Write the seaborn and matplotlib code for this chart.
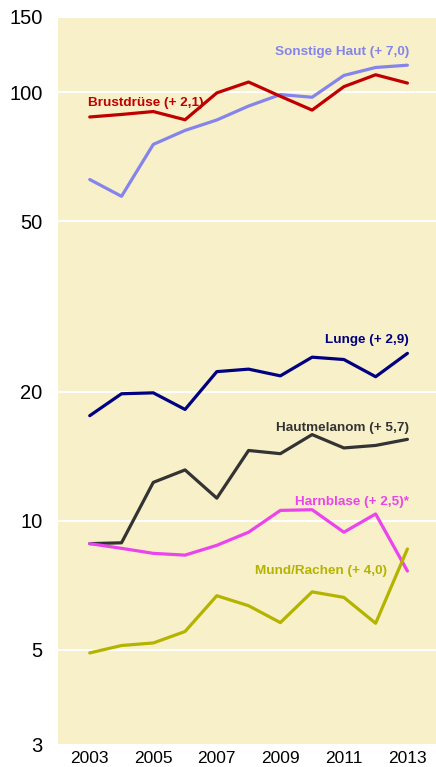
import numpy as np
import pandas as pd
import matplotlib
matplotlib.use("Agg")
import matplotlib.pyplot as plt
import seaborn as sns
from matplotlib.ticker import FixedLocator, NullLocator

years = list(range(2003, 2014))

sonstige_haut = [62.6, 57.2, 75.6, 81.5, 86.2, 92.9, 98.8, 97.4, 109.5, 114.3, 115.7]
brustdruese = [87.6, 88.8, 90.2, 86.3, 99.7, 105.7, 97.9, 90.9, 103.1, 109.9, 105.1]
lunge = [17.6, 19.8, 19.9, 18.2, 22.3, 22.6, 21.8, 24.1, 23.8, 21.7, 24.6]
hautmelanom = [8.85, 8.89, 12.3, 13.15, 11.3, 14.6, 14.35, 15.9, 14.8, 15.0, 15.5]
harnblase = [8.85, 8.63, 8.40, 8.32, 8.77, 9.41, 10.58, 10.62, 9.41, 10.38, 7.64]
mund_rachen = [4.92, 5.12, 5.19, 5.52, 6.69, 6.34, 5.79, 6.83, 6.63, 5.77, 8.60]

series_names = ["Sonstige Haut", "Brustdrüse", "Lunge", "Hautmelanom", "Harnblase", "Mund/Rachen"]
series_values = [sonstige_haut, brustdruese, lunge, hautmelanom, harnblase, mund_rachen]
series_labels = ["Sonstige Haut (+ 7,0)", "Brustdrüse (+ 2,1)", "Lunge (+ 2,9)",
                 "Hautmelanom (+ 5,7)", "Harnblase (+ 2,5)*", "Mund/Rachen (+ 4,0)"]
# where each label sits: (x, y in data units, alignment)
label_pos = [(2013.05, 124, "right"), (2002.95, 94.5, "left"), (2013.05, 26.4, "right"),
             (2013.05, 16.5, "right"), (2013.05, 11.08, "right"), (2012.35, 7.63, "right")]

y_ticks = [3, 5, 10, 20, 50, 100, 150]
x_ticks = [2003, 2005, 2007, 2009, 2011, 2013]

colors = {
    "Sonstige Haut": "#8484ec",
    "Brustdrüse": "#c00000",
    "Lunge": "#000080",
    "Hautmelanom": "#333333",
    "Harnblase": "#ec44ec",
    "Mund/Rachen": "#b4b400",
}

rows = []
for name, vals in zip(series_names, series_values):
    for yr, v in zip(years, vals):
        rows.append({"Jahr": yr, "Wert": v, "Serie": name})
df = pd.DataFrame(rows)

sns.set_style("white", {"axes.facecolor": "#f8f0c8"})
plt.rcParams["font.family"] = ["Liberation Sans", "DejaVu Sans"]

fig = plt.figure(figsize=(4.36, 7.67), dpi=100)
ax = fig.add_axes([0.133, 0.0287, 0.867, 0.9493])

sns.lineplot(data=df, x="Jahr", y="Wert", hue="Serie", palette=colors,
             hue_order=series_names, linewidth=2.3, legend=False, ax=ax)

ax.set_yscale("log")
ax.set_ylim(3, 150)
ax.set_xlim(2002, 2013.9)
ax.yaxis.set_major_locator(FixedLocator(y_ticks))
ax.yaxis.set_minor_locator(NullLocator())
ax.set_yticklabels([str(t) for t in y_ticks], fontsize=14.5, color="black")
ax.set_xticks(x_ticks)
ax.set_xticklabels([str(t) for t in x_ticks], fontsize=12.5, color="black")
ax.tick_params(axis="y", length=0, pad=11)
ax.tick_params(axis="x", length=0, pad=4)
ax.grid(axis="y", color="white", linewidth=1.5)
ax.set_axisbelow(True)
ax.set_xlabel("")
ax.set_ylabel("")
for s in ax.spines.values():
    s.set_visible(False)

for name, lab, (lx, ly, ha) in zip(series_names, series_labels, label_pos):
    ax.text(lx, ly, lab, color=colors[name], fontsize=9.7, fontweight="bold",
            ha=ha, va="center")

fig.savefig("out.png", dpi=100)
